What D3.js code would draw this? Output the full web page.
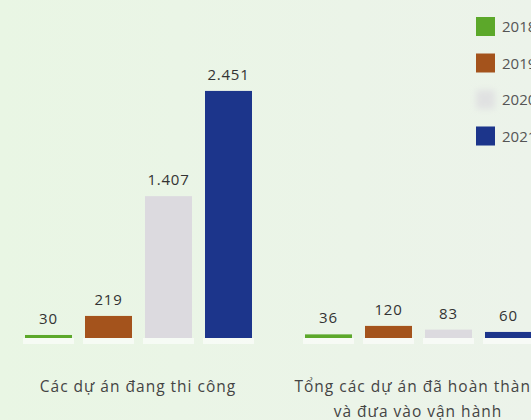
<!DOCTYPE html>
<html>
<head>
<meta charset="utf-8">
<script src="https://cdn.jsdelivr.net/npm/d3@7/dist/d3.min.js"></script>
<style>
  html, body { margin: 0; padding: 0; background: #ebf5e8; }
  svg { display: block; font-family: "Open Sans", "Noto Sans", sans-serif; }
</style>
</head>
<body>
<svg id="chart" width="531" height="420"></svg>
<script>
// Project counts by status and year
const categories = ["Các dự án đang thi công", "Tổng các dự án đã hoàn thành và đưa vào vận hành"];
const categoryLines = [
  ["Các dự án đang thi công"],
  ["Tổng các dự án đã hoàn thành", "và đưa vào vận hành"]
];
const years = ["2018", "2019", "2020", "2021"];
const values2018 = [30, 36];
const values2019 = [219, 120];
const values2020 = [1407, 83];
const values2021 = [2451, 60];

const seriesValues = { "2018": values2018, "2019": values2019, "2020": values2020, "2021": values2021 };
const colors = { "2018": "#5ba82b", "2019": "#a4521f", "2020": "#dcdadf", "2021": "#1b358b" };

const svg = d3.select("#chart");
const W = 531, H = 420;

// background wash
const defs = svg.append("defs");
const bg = defs.append("linearGradient").attr("id", "bg").attr("x1", 0).attr("x2", 1).attr("y1", 0).attr("y2", 0);
bg.append("stop").attr("offset", 0).attr("stop-color", "#e9f6e4");
bg.append("stop").attr("offset", 1).attr("stop-color", "#ecf3ea");
svg.append("rect").attr("width", W).attr("height", H).attr("fill", "url(#bg)");

const soft = defs.append("filter").attr("id", "soft").attr("x", "-20%").attr("y", "-20%").attr("width", "140%").attr("height", "140%");
soft.append("feGaussianBlur").attr("stdDeviation", 0.6);
const haze = defs.append("filter").attr("id", "haze").attr("x", "-60%").attr("y", "-60%").attr("width", "220%").attr("height", "220%");
haze.append("feGaussianBlur").attr("stdDeviation", 3);

const x0 = d3.scaleBand().domain(categories).range([-2, 558]);
const x1 = d3.scaleBand().domain(years).range([27, 254]).paddingInner(13 / 60);
const y = d3.scaleLinear().domain([0, 2500]).range([338, 86]);

const locale = d3.formatLocale({ decimal: ",", thousands: ".", grouping: [3], currency: ["", ""] });
const fmt = locale.format(",");

const rows = categories.flatMap((c, i) => years.map(yr => ({ cat: c, year: yr, value: seriesValues[yr][i] })));

const groups = svg.append("g");

// light reflection under each bar
groups.selectAll("rect.glow").data(rows).join("rect")
  .attr("class", "glow")
  .attr("x", d => x0(d.cat) + x1(d.year) - 2)
  .attr("y", y(0))
  .attr("width", x1.bandwidth() + 4)
  .attr("height", 6)
  .attr("fill", "#ffffff")
  .attr("opacity", 0.6)
  .attr("filter", "url(#soft)");

groups.selectAll("rect.bar").data(rows).join("rect")
  .attr("class", "bar")
  .attr("x", d => x0(d.cat) + x1(d.year))
  .attr("y", d => y(d.value))
  .attr("width", x1.bandwidth())
  .attr("height", d => y(0) - y(d.value))
  .attr("fill", d => colors[d.year])
  .attr("filter", "url(#soft)");

groups.selectAll("text.val").data(rows).join("text")
  .attr("class", "val")
  .attr("x", d => x0(d.cat) + x1(d.year) + x1.bandwidth() / 2)
  .attr("y", d => y(d.value) - 11)
  .attr("text-anchor", "middle")
  .attr("font-size", 15)
  .attr("letter-spacing", 0.8)
  .attr("fill", "#333")
  .text(d => fmt(d.value));

// category labels
const catG = svg.append("g");
categories.forEach((c, i) => {
  const cx = x0(c) + x0.bandwidth() / 2;
  const t = catG.append("text")
    .attr("x", cx)
    .attr("y", 392)
    .attr("text-anchor", "middle")
    .attr("font-size", 15.5)
    .attr("letter-spacing", 1.0)
    .attr("fill", "#444");
  categoryLines[i].forEach((line, j) => {
    t.append("tspan").attr("x", cx).attr("dy", j === 0 ? 0 : 25).text(line);
  });
});

// legend
const legend = svg.append("g").attr("transform", "translate(476,17)");
const li = legend.selectAll("g").data(years).join("g")
  .attr("transform", (d, i) => `translate(0,${i * 36.5})`);
li.append("rect").attr("width", 19).attr("height", 19)
  .attr("fill", d => colors[d])
  .attr("opacity", d => d === "2020" ? 0.7 : 1)
  .attr("filter", d => d === "2020" ? "url(#haze)" : "url(#soft)");
li.append("text").attr("x", 26).attr("y", 15).attr("font-size", 15).attr("fill", "#555").text(d => d);
</script>
</body>
</html>
